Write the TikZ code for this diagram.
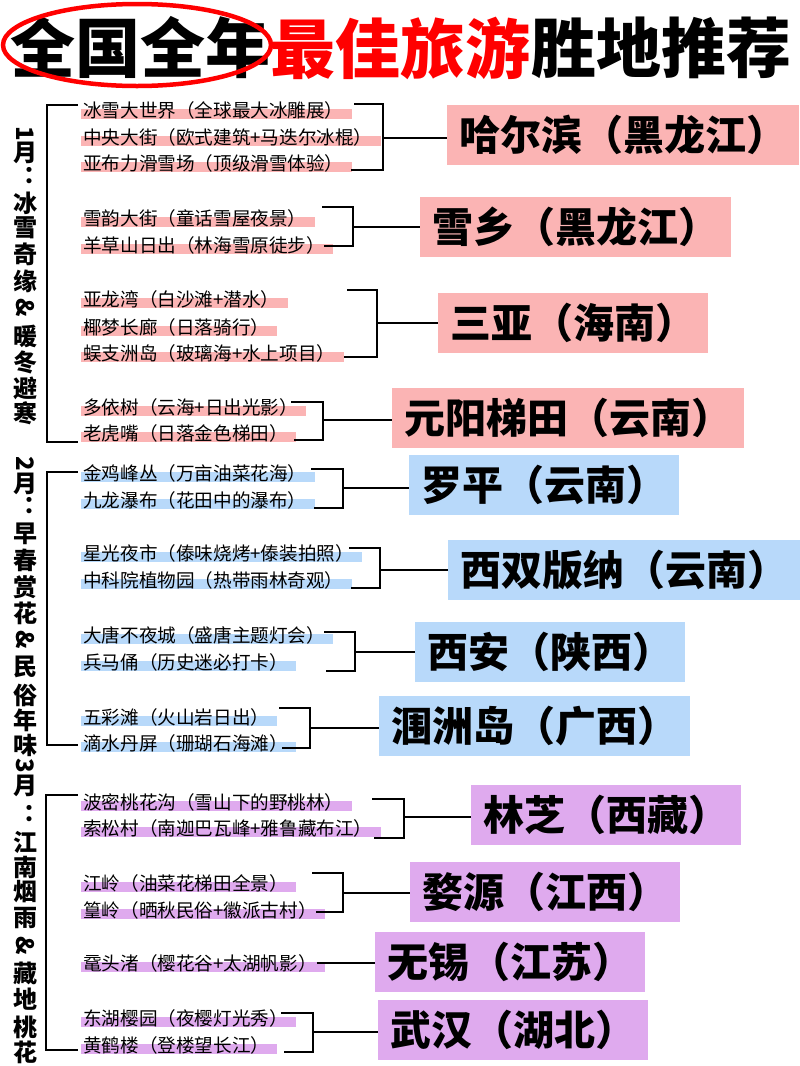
\documentclass[tikz,border=0pt]{standalone}
\usepackage{fontspec}
\setmainfont{Noto Sans CJK SC}
\usetikzlibrary{calc}
\pgfdeclarelayer{back}
\pgfdeclarelayer{bg}
\pgfsetlayers{back,bg,main}
\definecolor{pinkc}{HTML}{FBB4B4}
\definecolor{bluec}{HTML}{B8D9FA}
\definecolor{purpc}{HTML}{DFAAEE}
\definecolor{titlered}{HTML}{FF0000}
\tikzset{
  titletext/.style={anchor=west, inner sep=0pt, font=\fontsize{65}{70}\selectfont\bfseries},
  item/.style={anchor=west, inner sep=0pt, text=black, font=\fontsize{18.6}{22}\selectfont},
  dest/.style={anchor=west, inner xsep=12pt, inner ysep=0pt, minimum height=60pt, font=\fontsize{41}{44}\selectfont\bfseries},
  lab/.style={inner sep=0pt, font=\fontsize{24}{26}\selectfont\bfseries},
  brk/.style={line width=2.7pt, line cap=rect},
  conn/.style={line width=2.7pt},
}
\newcommand{\rot}[1]{\rotatebox[origin=c]{-90}{#1}}
\newcommand{\hlband}[2]{\fill[#1] ([xshift=-2pt,yshift=1pt]#2.west) rectangle ([xshift=8pt]#2.south east);}
% #1 name, #2 x, #3 top y, #4 top start x, #5 bottom y, #6 bottom start x, #7 mid y, #8 box
\newcommand{\mybracket}[8]{
  \coordinate (#1ts) at (#4,#3); \coordinate (#1t) at (#2,#3);
  \coordinate (#1b) at (#2,#5); \coordinate (#1bs) at (#6,#5);
  \coordinate (#1m) at (#2,#7);
  \draw[brk] (#1ts) -- (#1t) -- (#1b) -- (#1bs);
  \draw[conn] (#1m) -- (#1m -| #8.west);
}
\begin{document}
\begin{tikzpicture}[x=1pt,y=-1pt]
\begin{pgfonlayer}{back}
\fill[white] (0,0) rectangle (800,1066);
\end{pgfonlayer}
\useasboundingbox (0,0) rectangle (800,1066);

% ---- title ----
\node[titletext] (t1) at (10,48) {全国全年};
\node[titletext, text=titlered] (t2) at (t1.east) {最佳旅游};
\node[titletext] (t3) at (t2.east) {胜地推荐};
\draw[titlered, line width=4.5pt] (137,45) ellipse [x radius=134, y radius=41];

% ---- vertical section labels ----
\foreach \yy/\cc [count=\i] in {
  135/\rot{1}, 153/月, 203/冰, 228/雪, 254/奇, 281/缘, 308/\rot{\&}, 336/暖, 362/冬, 388/避, 413/寒,
  465/\rot{2}, 484/月, 534/早, 560/春, 587/赏, 613/花, 640/\rot{\&}, 667/民, 695/俗, 720/年, 745/味,
  766/\rot{3}, 786/月, 842/江, 867/南, 892/烟, 918/雨, 946/\rot{\&}, 973/藏, 999/地, 1027/桃, 1052/花}
  \node[lab] (lab\i) at (25,\yy) {\cc};
\foreach \yy [count=\i] in {176,506,814}
  \node[lab, anchor=west] (colon\i) at (23,\yy) {：};

% ---- left brackets ----
\coordinate (L1a) at (77,105); \coordinate (L1b) at (47,105); \coordinate (L1c) at (47,442); \coordinate (L1d) at (77,442);
\draw[brk] (L1a) -- (L1b) -- (L1c) -- (L1d);
\coordinate (L2a) at (77,472); \coordinate (L2b) at (47,472); \coordinate (L2c) at (47,745); \coordinate (L2d) at (77,745);
\draw[brk] (L2a) -- (L2b) -- (L2c) -- (L2d);
\coordinate (L3a) at (77,795); \coordinate (L3b) at (46,795); \coordinate (L3c) at (46,1050); \coordinate (L3d) at (77,1050);
\draw[brk] (L3a) -- (L3b) -- (L3c) -- (L3d);

% ---- items ----
\node[item] (i1) at (83,110) {冰雪大世界（全球最大冰雕展）};
\node[item] (i2) at (83,137) {中央大街（欧式建筑+马迭尔冰棍）};
\node[item] (i3) at (83,163) {亚布力滑雪场（顶级滑雪体验）};
\node[item] (i4) at (83,218) {雪韵大街（童话雪屋夜景）};
\node[item] (i5) at (83,245) {羊草山日出（林海雪原徒步）};
\node[item] (i6) at (83,299) {亚龙湾（白沙滩+潜水）};
\node[item] (i7) at (83,327) {椰梦长廊（日落骑行）};
\node[item] (i8) at (83,353) {蜈支洲岛（玻璃海+水上项目）};
\node[item] (i9) at (83,407) {多依树（云海+日出光影）};
\node[item] (i10) at (83,433) {老虎嘴（日落金色梯田）};
\node[item] (i11) at (83,473) {金鸡峰丛（万亩油菜花海）};
\node[item] (i12) at (83,500) {九龙瀑布（花田中的瀑布）};
\node[item] (i13) at (83,553) {星光夜市（傣味烧烤+傣装拍照）};
\node[item] (i14) at (83,580) {中科院植物园（热带雨林奇观）};
\node[item] (i15) at (83,635) {大唐不夜城（盛唐主题灯会）};
\node[item] (i16) at (83,662) {兵马俑（历史迷必打卡）};
\node[item] (i17) at (83,717) {五彩滩（火山岩日出）};
\node[item] (i18) at (83,743) {滴水丹屏（珊瑚石海滩）};
\node[item] (i19) at (83,802) {波密桃花沟（雪山下的野桃林）};
\node[item] (i20) at (83,828) {索松村（南迦巴瓦峰+雅鲁藏布江）};
\node[item] (i21) at (83,883) {江岭（油菜花梯田全景）};
\node[item] (i22) at (83,910) {篁岭（晒秋民俗+徽派古村）};
\node[item] (i23) at (83,963) {鼋头渚（樱花谷+太湖帆影）};
\node[item] (i24) at (83,1018) {东湖樱园（夜樱灯光秀）};
\node[item] (i25) at (83,1045) {黄鹤楼（登楼望长江）};

\begin{pgfonlayer}{bg}
\foreach \n in {i1,i2,i3,i4,i5,i6,i7,i8,i9,i10} {\hlband{pinkc}{\n}}
\foreach \n in {i11,i12,i13,i14,i15,i16,i17,i18} {\hlband{bluec}{\n}}
\foreach \n in {i19,i20,i21,i22,i23,i24,i25} {\hlband{purpc}{\n}}
\end{pgfonlayer}

% ---- destination boxes ----
\node[dest, fill=pinkc] (B1) at (447,135) {哈尔滨（黑龙江）};
\node[dest, fill=pinkc] (B2) at (420,227) {雪乡（黑龙江）};
\node[dest, fill=pinkc] (B3) at (438,323) {三亚（海南）};
\node[dest, fill=pinkc] (B4) at (392,418) {元阳梯田（云南）};
\node[dest, fill=bluec] (B5) at (409,485) {罗平（云南）};
\node[dest, fill=bluec] (B6) at (448,570) {西双版纳（云南）};
\node[dest, fill=bluec] (B7) at (415,652) {西安（陕西）};
\node[dest, fill=bluec] (B8) at (379,726) {涠洲岛（广西）};
\node[dest, fill=purpc] (B9) at (471,815) {林芝（西藏）};
\node[dest, fill=purpc] (B10) at (410,892) {婺源（江西）};
\node[dest, fill=purpc] (B11) at (375,962) {无锡（江苏）};
\node[dest, fill=purpc] (B12) at (378,1030) {武汉（湖北）};

% ---- right brackets and connectors ----
\mybracket{r1}{383}{104}{355}{170}{352}{138}{B1}
\mybracket{r2}{353}{207}{323}{246}{325}{227}{B2}
\mybracket{r3}{377}{290}{348}{357}{345}{323}{B3}
\mybracket{r4}{323}{402}{292}{440}{295}{420}{B4}
\mybracket{r5}{343}{469}{312}{508}{315}{488}{B5}
\mybracket{r6}{380}{548}{350}{588}{352}{570}{B6}
\mybracket{r7}{355}{632}{325}{671}{327}{652}{B7}
\mybracket{r8}{310}{708}{280}{748}{283}{728}{B8}
\mybracket{r9}{404}{799}{373}{838}{375}{817}{B9}
\mybracket{r10}{343}{873}{313}{912}{317}{893}{B10}
\mybracket{r12}{313}{1013}{282}{1052}{285}{1032}{B12}
\draw[conn] (i23.east) -- (i23.east -| B11.west);
\end{tikzpicture}
\end{document}
